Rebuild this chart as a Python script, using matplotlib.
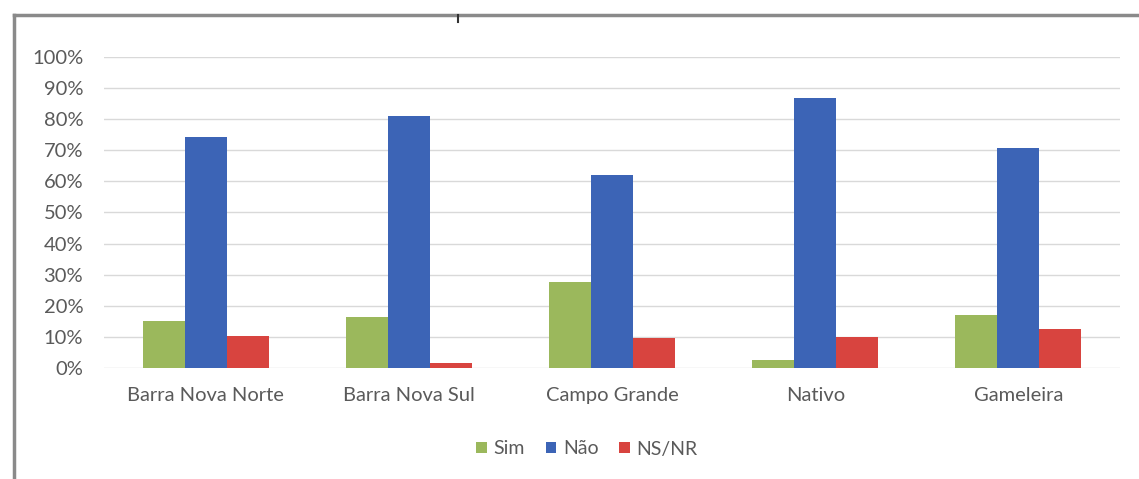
import matplotlib
matplotlib.use("Agg")
import matplotlib.pyplot as plt
import numpy as np
from matplotlib.lines import Line2D
from matplotlib.ticker import PercentFormatter

categories = ["Barra Nova Norte", "Barra Nova Sul", "Campo Grande", "Nativo", "Gameleira"]
series_names = ["Sim", "Não", "NS/NR"]
sim = [15.2, 16.5, 27.8, 2.6, 17.0]
nao = [74.4, 81.0, 62.2, 86.8, 70.6]
nsnr = [10.3, 1.5, 9.5, 9.9, 12.5]
colors = ["#9BB85C", "#3C64B6", "#D8443F"]
y_ticks = [0, 10, 20, 30, 40, 50, 60, 70, 80, 90, 100]

plt.rcParams['font.family'] = ['Lato', 'DejaVu Sans']

W, H = 1139, 479
fig = plt.figure(figsize=(W / 100, H / 100), dpi=100)
fig.patch.set_facecolor("white")

left, right, top, bottom = 104, 1120, 57, 368
ax = fig.add_axes([left / W, 1 - bottom / H, (right - left) / W, (bottom - top) / H])

x = np.arange(len(categories))
bw = 0.207
for i, (vals, name) in enumerate(zip([sim, nao, nsnr], series_names)):
    ax.bar(x + (i - 1) * bw, vals, width=bw, color=colors[i], label=name, zorder=3)

ax.set_xlim(-0.5, len(categories) - 0.5)
ax.set_ylim(0, 100)
ax.set_yticks(y_ticks)
ax.yaxis.set_major_formatter(PercentFormatter(decimals=0))
ax.set_xticks(x)
ax.set_xticklabels(categories)
ax.grid(axis="y", color="#D9D9D9", lw=1, zorder=0)
for s in ax.spines.values():
    s.set_visible(False)
ax.tick_params(axis="both", length=0, labelsize=14.5, labelcolor="#5A5A5A")
ax.tick_params(axis="y", pad=15)
ax.tick_params(axis="x", pad=14)

leg = fig.legend(loc="center", bbox_to_anchor=(587 / W, 1 - 449 / H), ncol=3, frameon=False,
                 handlelength=0.55, handleheight=0.55, handletextpad=0.35, columnspacing=1.05,
                 fontsize=14, labelcolor="#5A5A5A")

# outer frame (cropped chart border)
fig.add_artist(Line2D([14 / W, 1.0], [1 - 15 / H, 1 - 15 / H], color="#8A8A8A", lw=2.5,
                      transform=fig.transFigure))
fig.add_artist(Line2D([14 / W, 14 / W], [1 - 15 / H, 0.0], color="#8A8A8A", lw=2.5,
                      transform=fig.transFigure))
fig.add_artist(Line2D([458 / W, 458 / W], [1 - 15 / H, 1 - 22 / H], color="#333333", lw=1.5,
                      transform=fig.transFigure))

fig.savefig("out.png", dpi=100)
